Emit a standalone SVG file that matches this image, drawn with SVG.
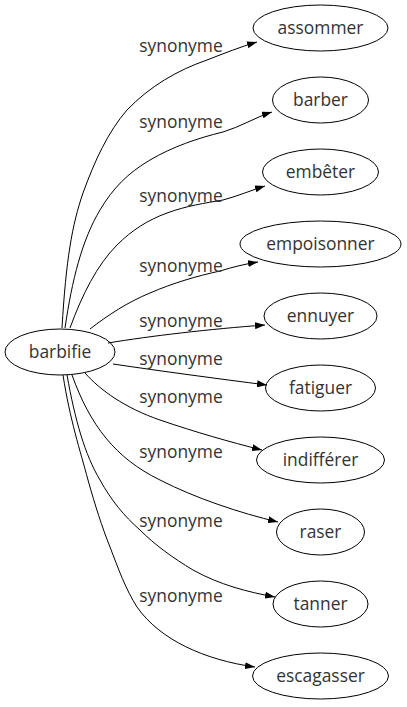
<svg xmlns="http://www.w3.org/2000/svg" width="407" height="707" viewBox="0 0 407 707">
<defs>
<marker id="arr" markerUnits="userSpaceOnUse" markerWidth="10" markerHeight="7" refX="10" refY="3.5" orient="auto">
<path d="M0,0 L10,3.5 L0,7 z" fill="#000"/>
</marker>
<style>
.n ellipse{fill:none;stroke:#000;stroke-width:1}
text{font-family:"Open Sans",sans-serif;font-size:17.4px;fill:#333;text-anchor:middle}
.e path{fill:none;stroke:#000;stroke-width:1;marker-end:url(#arr)}
</style>
</defs>
<rect width="407" height="707" fill="#fff"/>
<g id="edges" class="e">
<path d="M62,328 C66,260 72,225 83,193 C95,160 108,132 127,110 C150,86 178,70 207,60 C225,53 240,47 257,42"/>
<path d="M65,328 C72,280 82,240 100,210 C113,188 128,173 150,160 C172,147 198,138 223,132 C240,127 256,117 272,112"/>
<path d="M70,328 C82,295 97,265 117,245 C132,230 148,220 167,213 C186,206 205,203 223,200 C238,196 252,190 265,186"/>
<path d="M90,329 C108,315 128,302 150,293 C173,283 197,276 220,271 C233,267 245,264 258,262"/>
<path d="M108,343 C150,336 210,329 265,325"/>
<path d="M113,364 C160,371 220,379 267,385"/>
<path d="M85,373 C100,390 125,408 160,420 C195,432 230,442 262,450"/>
<path d="M72,375 C90,425 115,458 160,480 C195,498 240,513 278,522"/>
<path d="M67,375 C75,420 85,455 100,480 C111,500 124,516 140,530 C155,545 173,558 193,570 C220,585 248,592 275,597"/>
<path d="M63,375 C70,420 80,450 88,480 C95,505 102,527 110,547 C118,568 126,590 137,607 C160,640 205,660 255,667"/>
</g>
<g id="labels">
<text x="181" y="52">synonyme</text>
<text x="181" y="128">synonyme</text>
<text x="181" y="202">synonyme</text>
<text x="181" y="272">synonyme</text>
<text x="181" y="327">synonyme</text>
<text x="181" y="365">synonyme</text>
<text x="181" y="403">synonyme</text>
<text x="181" y="458">synonyme</text>
<text x="181" y="527">synonyme</text>
<text x="181" y="602">synonyme</text>
</g>
<g id="barbifie" class="n"><ellipse cx="60" cy="352" rx="55" ry="23"/><text x="60" y="358">barbifie</text></g>
<g id="assommer" class="n"><ellipse cx="320.5" cy="28" rx="67.5" ry="23"/><text x="320.5" y="34">assommer</text></g>
<g id="barber" class="n"><ellipse cx="320.5" cy="100" rx="48" ry="23"/><text x="320.5" y="106">barber</text></g>
<g id="embeter" class="n"><ellipse cx="320.5" cy="172" rx="58" ry="23"/><text x="320.5" y="178">embêter</text></g>
<g id="empoisonner" class="n"><ellipse cx="320.5" cy="244" rx="80.5" ry="23"/><text x="320.5" y="250">empoisonner</text></g>
<g id="ennuyer" class="n"><ellipse cx="320.5" cy="316" rx="56.5" ry="23"/><text x="320.5" y="322">ennuyer</text></g>
<g id="fatiguer" class="n"><ellipse cx="320.5" cy="388" rx="55" ry="23"/><text x="320.5" y="394">fatiguer</text></g>
<g id="indifferer" class="n"><ellipse cx="320.5" cy="460" rx="64" ry="23"/><text x="320.5" y="466">indifférer</text></g>
<g id="raser" class="n"><ellipse cx="320.5" cy="532" rx="44" ry="23"/><text x="320.5" y="538">raser</text></g>
<g id="tanner" class="n"><ellipse cx="320.5" cy="604" rx="47.5" ry="23"/><text x="320.5" y="610">tanner</text></g>
<g id="escagasser" class="n"><ellipse cx="320.5" cy="676" rx="68" ry="23"/><text x="320.5" y="682">escagasser</text></g>
</svg>
